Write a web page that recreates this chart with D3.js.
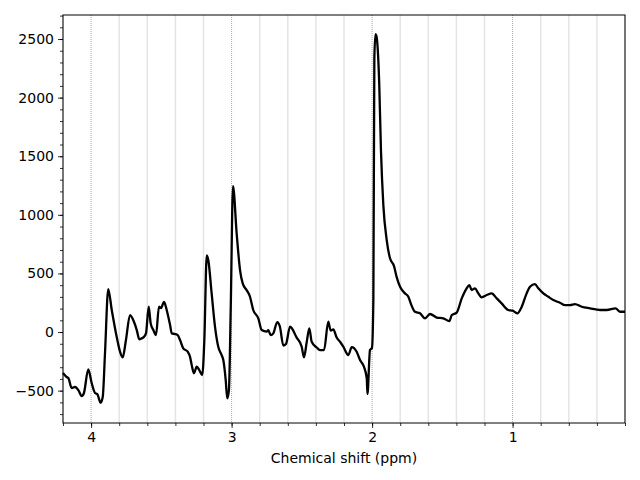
<!DOCTYPE html>
<html>
<head>
<meta charset="utf-8">
<script src="https://cdn.jsdelivr.net/npm/d3@7"></script>
<style>
  body { margin: 0; background: #fff; }
  svg text { font-family: "DejaVu Sans", sans-serif; }
</style>
</head>
<body>
<div id="chart"></div>
<script>
// spectrum (ppm, intensity)
var ppm = [4.200, 4.174, 4.162, 4.138, 4.115, 4.091, 4.067, 4.051, 4.020, 3.996,
  3.972, 3.956, 3.932, 3.917, 3.901, 3.878, 3.853, 3.818, 3.794, 3.775,
  3.752, 3.723, 3.695, 3.675, 3.657, 3.640, 3.623, 3.609, 3.590, 3.576,
  3.557, 3.538, 3.517, 3.502, 3.481, 3.462, 3.438, 3.426, 3.403, 3.384,
  3.367, 3.344, 3.312, 3.296, 3.284, 3.268, 3.248, 3.230, 3.209, 3.194,
  3.177, 3.166, 3.142, 3.118, 3.095, 3.071, 3.059, 3.042, 3.031, 3.019,
  3.006, 2.990, 2.964, 2.940, 2.921, 2.893, 2.869, 2.846, 2.810, 2.786,
  2.750, 2.739, 2.722, 2.703, 2.675, 2.656, 2.632, 2.613, 2.584, 2.537,
  2.501, 2.485, 2.465, 2.447, 2.430, 2.394, 2.371, 2.342, 2.312, 2.295,
  2.276, 2.252, 2.228, 2.205, 2.169, 2.145, 2.110, 2.086, 2.058, 2.038,
  2.033, 2.015, 2.001, 1.991, 1.984, 1.976, 1.969, 1.949, 1.937, 1.920,
  1.896, 1.873, 1.844, 1.825, 1.801, 1.766, 1.742, 1.725, 1.695, 1.659,
  1.623, 1.588, 1.540, 1.493, 1.450, 1.433, 1.398, 1.362, 1.327, 1.308,
  1.291, 1.268, 1.244, 1.220, 1.184, 1.149, 1.113, 1.078, 1.031, 1.000,
  0.967, 0.935, 0.900, 0.876, 0.841, 0.817, 0.781, 0.746, 0.710, 0.663,
  0.627, 0.592, 0.556, 0.508, 0.449, 0.378, 0.330, 0.267, 0.236, 0.200];

var intensity = [-350, -384, -392, -478, -469, -495, -546, -520, -318, -435,
  -520, -529, -603, -552, -179, 367, 188, -40, -168, -216,
  -68, 145, 88, 17, -62, -54, -40, -9, 216, 74,
  17, -26, 216, 205, 258, 188, 60, -11, -17, -26,
  -68, -139, -168, -211, -281, -352, -296, -324, -367, -68,
  653, 614, 330, 45, -125, -196, -239, -409, -566, -495,
  216, 1245, 842, 529, 415, 358, 301, 188, 117, 17,
  3, 17, -26, -11, 85, 45, -115, -102, 45, -47,
  -125, -216, -83, 32, -83, -132, -154, -154, 88, 13,
  23, -47, -83, -125, -196, -128, -168, -239, -296, -395,
  -529, -154, -136, 273, 2337, 2542, 2525, 2107, 1552, 1083,
  785, 631, 563, 469, 386, 330, 301, 245, 173, 160,
  117, 154, 124, 117, 94, 145, 166, 287, 373, 401,
  358, 373, 330, 296, 316, 330, 287, 245, 188, 182,
  160, 216, 330, 386, 409, 373, 330, 301, 273, 250,
  230, 230, 239, 216, 202, 188, 188, 202, 173, 173];

var xMajorTicks = [4, 3, 2, 1];
var xMinorTicks = [4.2, 4.0, 3.8, 3.6, 3.4, 3.2, 3.0, 2.8, 2.6, 2.4, 2.2, 2.0,
  1.8, 1.6, 1.4, 1.2, 1.0, 0.8, 0.6, 0.4, 0.2];
var yMajorTicks = [-500, 0, 500, 1000, 1500, 2000, 2500];

var data = ppm.map(function (p, i) { return { ppm: p, v: intensity[i] }; });

var margin = { top: 15, right: 15, bottom: 57, left: 63 },
    width = 640 - margin.left - margin.right,
    height = 480 - margin.top - margin.bottom;

var svg = d3.select("#chart")
    .append("svg")
    .attr("width", 640)
    .attr("height", 480)
    .append("g")
    .attr("transform", "translate(" + margin.left + "," + margin.top + ")");

var x = d3.scaleLinear().domain([4.2, 0.2]).range([0, width]);
var y = d3.scaleLinear().domain([-776, 2705]).range([height, 0]);

// grid: light lines every 0.2 ppm, dotted at whole ppm
svg.append("g")
    .selectAll("line")
    .data(xMinorTicks.filter(function (d) { return Math.abs(d - Math.round(d)) > 0.01; }))
    .enter().append("line")
    .attr("x1", function (d) { return x(d); })
    .attr("x2", function (d) { return x(d); })
    .attr("y1", 0).attr("y2", height)
    .attr("stroke", "#e4e4e4")
    .attr("stroke-width", 1.5);

svg.append("g")
    .selectAll("line")
    .data(xMajorTicks)
    .enter().append("line")
    .attr("x1", function (d) { return x(d); })
    .attr("x2", function (d) { return x(d); })
    .attr("y1", 0).attr("y2", height)
    .attr("stroke", "#a8a8a8")
    .attr("stroke-width", 1)
    .attr("stroke-dasharray", "1,1");

// spectrum
var line = d3.line()
    .curve(d3.curveMonotoneX)
    .x(function (d) { return x(d.ppm); })
    .y(function (d) { return y(d.v); });

svg.append("path")
    .datum(data)
    .attr("fill", "none")
    .attr("stroke", "black")
    .attr("stroke-width", 2.3)
    .attr("stroke-linejoin", "round")
    .attr("d", line);

// axes
svg.append("g")
    .attr("transform", "translate(0," + height + ")")
    .call(d3.axisBottom(x).tickValues(xMajorTicks).tickFormat(d3.format("d")).tickSize(5).tickPadding(4));
svg.append("g")
    .attr("transform", "translate(0," + height + ")")
    .call(d3.axisBottom(x).tickValues(xMinorTicks).tickFormat("").tickSize(3))
    .select(".domain").remove();

svg.append("g")
    .call(d3.axisLeft(y).tickValues(yMajorTicks).tickFormat(function (d) { return d < 0 ? "\u2212" + Math.abs(d) : d; }).tickSize(5).tickPadding(4));
svg.append("g")
    .call(d3.axisLeft(y).tickValues(d3.range(-700, 2701, 100)).tickFormat("").tickSize(3))
    .select(".domain").remove();

svg.selectAll(".tick text").attr("font-size", 14).attr("fill", "#000")
    .attr("font-family", "DejaVu Sans, sans-serif");
svg.selectAll(".tick line").attr("stroke", "#000").attr("stroke-width", 0.8);

// frame
svg.append("rect")
    .attr("width", width).attr("height", height)
    .attr("fill", "none").attr("stroke", "#000").attr("stroke-width", 1);
svg.selectAll(".domain").remove();

svg.append("text")
    .attr("x", width / 2)
    .attr("y", height + 40)
    .attr("text-anchor", "middle")
    .attr("font-size", 14)
    .text("Chemical shift (ppm)");
</script>
</body>
</html>
